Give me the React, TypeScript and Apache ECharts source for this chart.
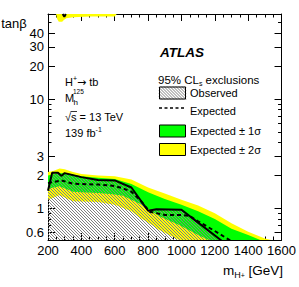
import React, { useEffect, useRef } from 'react';
import * as echarts from 'echarts';

// ---- data (mass in GeV, tanβ) ----
const obsMass = [200, 225, 260, 280, 300, 400, 500, 600, 700, 800, 850, 1000, 1100, 1245];
const obsTanb = [1.45, 2.12, 2.12, 1.98, 2.1, 1.93, 1.82, 1.8, 1.55, 0.95, 0.98, 0.97, 0.74, 0.5];

const expMass = [200, 280, 350, 500, 600, 650, 700, 750, 810, 900, 1000, 1050, 1100, 1200, 1300];
const expTanb = [1.7, 1.8, 1.68, 1.65, 1.6, 1.52, 1.42, 1.2, 0.93, 0.87, 0.87, 0.85, 0.76, 0.62, 0.5];

const p1Mass = [200, 250, 300, 400, 500, 600, 700, 800, 900, 1000, 1100, 1200, 1300, 1400, 1490];
const p1Tanb = [2.0, 2.08, 2.1, 1.97, 1.9, 1.85, 1.67, 1.4, 1.22, 1.08, 0.94, 0.8, 0.65, 0.57, 0.5];
const m1Mass = [200, 270, 350, 400, 500, 600, 650, 750, 870, 990, 1100, 1180];
const m1Tanb = [1.51, 1.59, 1.42, 1.4, 1.38, 1.34, 1.3, 1.1, 0.84, 0.7, 0.57, 0.5];

const p2Mass = [200, 230, 270, 300, 350, 400, 500, 600, 700, 800, 900, 1000, 1100, 1200, 1300, 1400, 1500, 1570];
const p2Tanb = [2.15, 2.2, 2.32, 2.28, 2.15, 2.06, 2.0, 1.97, 1.84, 1.55, 1.37, 1.2, 1.06, 0.9, 0.73, 0.61, 0.53, 0.5];
const m2Mass = [200, 270, 350, 500, 600, 700, 750, 800, 870, 1000];
const m2Tanb = [1.2, 1.32, 1.16, 1.14, 1.08, 0.94, 0.82, 0.74, 0.63, 0.5];

// high tanβ exclusion (from the top edge down)
const topMass = [248, 255, 265, 285, 295, 310, 350, 450, 600, 612];
const topTanb = [60, 54, 51, 51, 53, 55, 56, 57, 57, 60];
const topObsMass = [288, 298, 307];
const topObsTanb = [60, 56.5, 60];

const yMajorTicks = [0.6, 1, 2, 3, 10, 20, 30, 40];
const yMinorTicks = [0.7, 0.8, 0.9, 4, 5, 6, 7, 8, 9, 50];
const xLabels = [200, 400, 600, 800, 1000, 1200, 1400, 1600];
const X_MIN = 200, X_MAX = 1600, X_STEP = 200;
const Y_MIN = 0.513, Y_MAX = 60, BOTTOM = 0.5;

const FONT = '"Liberation Sans", Arial, Helvetica, sans-serif';
const HATCH_COLOR = '#808080';
const HATCH_STEP = 3;
const lg = (t: number) => Math.log10(t);

// "\" hatch lines covering a rectangle (texture only, clipped afterwards)
function hatchLines(x: number, y: number, w: number, h: number, clipToBox: boolean) {
  const out: any[] = [];
  for (let k = -h; k < w; k += HATCH_STEP) {
    let x1 = x + k, y1 = y, x2 = x + k + h, y2 = y + h;
    if (clipToBox) {
      if (x1 < x) { y1 = y + (x - x1); x1 = x; }
      if (x2 > x + w) { y2 = y + h - (x2 - (x + w)); x2 = x + w; }
    }
    out.push({ type: 'line', silent: true, shape: { x1, y1, x2, y2 }, style: { stroke: HATCH_COLOR, lineWidth: 1 } });
  }
  return out;
}

export default function App() {
  const ref = useRef<HTMLDivElement>(null);
  useEffect(() => {
    document.body.style.margin = '0';
    const chart = echarts.init(ref.current!, undefined, { renderer: 'svg' });

    // polygon = upper edge left→right, then lower edge right→left
    const bandPoints = (api: any, upM: number[], upT: number[], loM: number[], loT: number[]) => {
      const pts: number[][] = [];
      upM.forEach((m, i) => pts.push(api.coord([m, lg(upT[i])])));
      for (let i = loM.length - 1; i >= 0; i--) pts.push(api.coord([loM[i], lg(loT[i])]));
      return pts;
    };
    const polySeries = (upM: number[], upT: number[], loM: number[], loT: number[], fill: string) => ({
      type: 'custom', clip: true, silent: true, data: [[X_MIN, 0]],
      renderItem: (_p: any, api: any) => ({
        type: 'polygon', shape: { points: bandPoints(api, upM, upT, loM, loT) }, style: { fill, stroke: null },
      }),
    });
    const hatchSeries = (upM: number[], upT: number[], loM: number[], loT: number[]) => ({
      type: 'custom', clip: true, silent: true, data: [[X_MIN, 0]],
      renderItem: (params: any, api: any) => {
        const cs = params.coordSys;
        return {
          type: 'group',
          clipPath: { type: 'polygon', shape: { points: bandPoints(api, upM, upT, loM, loT) } },
          children: hatchLines(cs.x, cs.y, cs.width, cs.height, false),
        };
      },
    });
    const lineSeries = (ms: number[], ts: number[], dash: any) => ({
      type: 'line', symbol: 'none', silent: true, clip: true,
      data: ms.map((m, i) => [m, lg(ts[i])]),
      lineStyle: { color: '#000', width: 2, type: dash },
    });

    const yAx = (pos: string, major: boolean, labels: boolean) => ({
      type: 'value', position: pos, min: lg(Y_MIN), max: lg(Y_MAX),
      splitLine: { show: false },
      axisLine: { show: major, onZero: false, lineStyle: { color: '#000', width: 1 } },
      axisTick: { show: true, inside: true, length: major ? 7 : 3.5, customValues: (major ? yMajorTicks : yMinorTicks).map(lg), lineStyle: { color: '#000' } },
      axisLabel: {
        show: labels, customValues: yMajorTicks.map(lg), margin: 4, color: '#000', fontSize: 13, fontFamily: FONT,
        hideOverlap: false, interval: 0, showMinLabel: true, showMaxLabel: true,
        formatter: (v: number) => String(parseFloat(Math.pow(10, v).toPrecision(2))),
      },
    });
    const xAx = (pos: string, labels: boolean) => ({
      type: 'value', position: pos, min: X_MIN, max: X_MAX, interval: X_STEP,
      splitLine: { show: false },
      axisLine: { show: true, onZero: false, lineStyle: { color: '#000', width: 1 } },
      axisTick: { show: true, inside: true, length: 7, lineStyle: { color: '#000' } },
      minorTick: { show: true, splitNumber: 4, length: 3.5, lineStyle: { color: '#000' } },
      axisLabel: {
        show: labels, margin: 4, color: '#000', fontSize: 13, fontFamily: FONT,
        customValues: xLabels, hideOverlap: false, interval: 0, showMinLabel: true, showMaxLabel: true,
        formatter: (v: number) => String(Math.round(v)),
      },
    });

    const txt = (x: number, y: number, text: string, size: number, extra: any = {}) => ({
      type: 'text', x, y, silent: true,
      style: { text, fontSize: size, fontFamily: FONT, fill: '#000', align: 'left', verticalAlign: 'middle', ...extra },
    });

    const legX = 159, legW = 27, legH = 13, legTextX = 190;
    const rowY = [93, 112, 131, 149.5];
    const box0Y = rowY[0] - legH / 2;
    const obsEnd = obsMass[obsMass.length - 1];

    chart.setOption({
      animation: false,
      grid: { left: 48, right: 16, top: 14, bottom: 47 },
      xAxis: [xAx('bottom', true), xAx('top', false)],
      yAxis: [yAx('left', true, true), yAx('left', false, false), yAx('right', true, false), yAx('right', false, false)],
      series: [
        polySeries(p2Mass, p2Tanb, m2Mass, m2Tanb, '#ffff00'),
        polySeries(topMass, topTanb, [], [], '#ffff00'),
        polySeries(p1Mass, p1Tanb, m1Mass, m1Tanb, '#00ff00'),
        hatchSeries(obsMass, obsTanb, [X_MIN, obsEnd], [BOTTOM, BOTTOM]),
        lineSeries(expMass, expTanb, [4, 3]),
        lineSeries(obsMass, obsTanb, 'solid'),
        lineSeries(topObsMass, topObsTanb, 'solid'),
      ],
      graphic: [
        txt(14, 23, 'tanβ', 13, { align: 'center', verticalAlign: 'middle' }),
        txt(283, 270, '{a|m}{s|H}{p|+}{a| [GeV]}', 13, {
          align: 'right',
          rich: {
            a: { fontSize: 13.5, fontFamily: FONT, lineHeight: 18, verticalAlign: 'middle' },
            s: { fontSize: 9, fontFamily: FONT, lineHeight: 9, verticalAlign: 'bottom' },
            p: { fontSize: 7, fontFamily: FONT, lineHeight: 14, verticalAlign: 'bottom' },
          },
        }),
        txt(65, 82, '{a|H}{p|+}{r|→}{a| tb}', 11, {
          rich: {
            a: { fontSize: 11, fontFamily: FONT, lineHeight: 14 },
            r: { fontSize: 11, fontFamily: '"DejaVu Sans", sans-serif', lineHeight: 14 },
            p: { fontSize: 7, fontFamily: FONT, lineHeight: 8, verticalAlign: 'top' },
          },
        }),
        txt(65, 98, 'M', 11),
        txt(73, 91.5, '125', 6.5),
        txt(73.5, 102.5, 'h', 8),
        txt(65, 117, '√s = 13 TeV', 11),
        { type: 'line', silent: true, shape: { x1: 70.5, y1: 111.5, x2: 77, y2: 111.5 }, style: { stroke: '#000', lineWidth: 0.8 } },
        txt(65, 133, '{a|139 fb}{p|-1}', 11, {
          rich: {
            a: { fontSize: 11, fontFamily: FONT, lineHeight: 14 },
            p: { fontSize: 7, fontFamily: FONT, lineHeight: 8, verticalAlign: 'top' },
          },
        }),
        txt(160, 52, 'ATLAS', 13.5, { fontWeight: 'bold', fontStyle: 'italic' }),
        txt(158, 80, '{a|95% CL}{s|s}{a| exclusions}', 11, {
          rich: {
            a: { fontSize: 11.5, fontFamily: FONT, lineHeight: 14 },
            s: { fontSize: 7, fontFamily: FONT, lineHeight: 8, verticalAlign: 'bottom' },
          },
        }),
        { type: 'group', silent: true, children: hatchLines(legX, box0Y, legW, legH, true) },
        { type: 'rect', silent: true, shape: { x: legX + 0.5, y: box0Y + 0.5, width: legW - 1, height: legH - 1 }, style: { fill: 'none', stroke: '#000', lineWidth: 1 } },
        txt(legTextX, rowY[0], 'Observed', 11),
        { type: 'line', silent: true, shape: { x1: legX, y1: rowY[1] - 4, x2: legX + legW, y2: rowY[1] - 4 }, style: { stroke: '#000', lineWidth: 1.5, lineDash: [3, 2.5] } },
        txt(legTextX, rowY[1] - 1, 'Expected', 11),
        { type: 'rect', silent: true, shape: { x: legX + 0.5, y: rowY[2] - legH / 2 + 0.5, width: legW - 1, height: legH - 1 }, style: { fill: '#00ff00', stroke: '#000', lineWidth: 1 } },
        txt(legTextX, rowY[2], 'Expected ± 1σ', 11),
        { type: 'rect', silent: true, shape: { x: legX + 0.5, y: rowY[3] - legH / 2 + 0.5, width: legW - 1, height: legH - 1 }, style: { fill: '#ffff00', stroke: '#000', lineWidth: 1 } },
        txt(legTextX, rowY[3], 'Expected ± 2σ', 11),
      ],
    });
    return () => chart.dispose();
  }, []);
  return <div ref={ref} style={{ position: 'absolute', left: 0, top: 0, width: 299, height: 287 }} />;
}
